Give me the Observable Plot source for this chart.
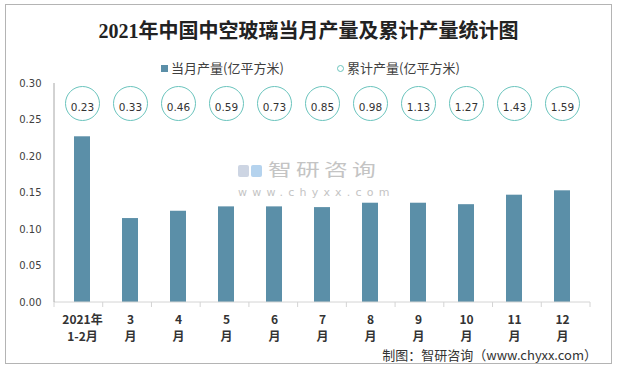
<!DOCTYPE html>
<html><head><meta charset="utf-8">
<script src="https://cdn.jsdelivr.net/npm/d3@7"></script>
<script src="https://cdn.jsdelivr.net/npm/@observablehq/plot@0.6"></script>
<style>
body{margin:0;background:#fff;}
#wrap{position:relative;width:617px;height:368px;overflow:hidden;font-family:"Noto Sans CJK SC",sans-serif;background:#fff;}
#border{position:absolute;left:5px;top:4px;width:605px;height:358px;border:1px solid #b4b4b4;}
#title{position:absolute;left:0;width:617px;top:18px;text-align:center;font-weight:bold;font-size:20px;font-family:"Liberation Serif","Noto Sans CJK SC",serif;color:#222;line-height:26px;}
.lg{position:absolute;font-size:13px;line-height:16px;color:#404040;top:60px;}
.sw{position:absolute;top:65px;width:7px;height:7px;}
#chart{position:absolute;left:0;top:66px;}
#footer{position:absolute;right:20px;top:348px;font-size:13px;line-height:14px;color:#333;}
#wm{position:absolute;left:238px;top:160px;color:#c4c4c4;}
</style></head>
<body>
<div id="wrap">
  <div id="border"></div>
  <div id="title"></div>
  <div class="sw" style="left:161px;background:#5b8fa8;"></div>
  <div class="lg" id="lg1" style="left:171px;"></div>
  <div class="sw" style="left:337px;border:1px solid #6ac4bd;border-radius:50%;width:5px;height:5px;"></div>
  <div class="lg" id="lg2" style="left:347px;"></div>
  <div id="wm">
    <div style="position:absolute;left:0;top:5px;width:11px;height:12px;background:#cdd5e3;border-radius:2px;"></div>
    <div style="position:absolute;left:13px;top:5px;width:11px;height:12px;background:#b5d3ee;border-radius:2px;"></div>
    <div id="wm1" style="position:absolute;left:30px;top:-1px;font-size:17px;letter-spacing:3px;transform:scaleX(1.4);transform-origin:left;white-space:nowrap;line-height:20px;"></div>
    <div id="wm2" style="position:absolute;left:0px;top:27px;font-size:11px;letter-spacing:5.2px;white-space:nowrap;font-family:'DejaVu Sans';line-height:12px;"></div>
  </div>
  <div id="chart"></div>
  <div id="footer"></div>
</div>
<script>
const titleText = "2021年中国中空玻璃当月产量及累计产量统计图";
const seriesNames = ["当月产量(亿平方米)", "累计产量(亿平方米)"];
const footerText = "制图：智研咨询（www.chyxx.com）";
const watermark = ["智研咨询", "www.chyxx.com"];

const months = ["2021年1-2月","3月","4月","5月","6月","7月","8月","9月","10月","11月","12月"];
const tickLabels = ["2021年\n1-2月","3\n月","4\n月","5\n月","6\n月","7\n月","8\n月","9\n月","10\n月","11\n月","12\n月"];
const monthly = [0.227,0.115,0.125,0.131,0.131,0.130,0.136,0.136,0.134,0.147,0.153];
const cumulative = [0.23,0.33,0.46,0.59,0.73,0.85,0.98,1.13,1.27,1.43,1.59];
const yTicks = [0,0.05,0.10,0.15,0.20,0.25,0.30];

document.getElementById("title").textContent = titleText;
document.getElementById("lg1").textContent = seriesNames[0];
document.getElementById("lg2").textContent = seriesNames[1];
document.getElementById("footer").textContent = footerText;
document.getElementById("wm1").textContent = watermark[0];
document.getElementById("wm2").textContent = watermark[1];

const data = months.map((m, i) => ({month: m, value: monthly[i], cum: cumulative[i], label: tickLabels[i]}));
const labelOf = new Map(data.map(d => [d.month, d.label]));

function axisLines(index, scales, values, dimensions) {
  const {width, height, marginLeft, marginRight, marginTop, marginBottom} = dimensions;
  const n = months.length;
  const step = (width - marginLeft - marginRight) / n;
  const y0 = height - marginBottom;
  const g = d3.create("svg:g");
  g.append("line").attr("x1", marginLeft).attr("x2", width - marginRight).attr("y1", y0).attr("y2", y0).attr("stroke", "#d4d4d4");
  for (let i = 0; i <= n; i++) {
    const x = marginLeft + i * step;
    g.append("line").attr("x1", x).attr("x2", x).attr("y1", y0).attr("y2", y0 + 5).attr("stroke", "#d4d4d4");
  }
  g.append("line").attr("x1", marginLeft).attr("x2", marginLeft).attr("y1", marginTop).attr("y2", y0).attr("stroke", "#a6a6a6");
  return g.node();
}

const plot = Plot.plot({
  width: 617, height: 282,
  marginTop: 17, marginBottom: 46, marginLeft: 54, marginRight: 27,
  x: {domain: months, paddingInner: 0.67, paddingOuter: 0.335, axis: null},
  y: {domain: [0, 0.30], axis: null},
  style: {background: "transparent", overflow: "visible"},
  marks: [
    Plot.barY(data, {x: "month", y: "value", fill: "#5b8fa8"}),
    axisLines,
    Plot.axisY({ticks: yTicks, tickFormat: d3.format(".2f"), tickSize: 0, tickPadding: 13, fontSize: 10, fontFamily: "DejaVu Sans", fill: "#404040", label: null}),
    Plot.axisX({tickSize: 0, tickPadding: 10, tickFormat: d => labelOf.get(d), fontSize: 12, fontWeight: "bold", fontFamily: "Noto Sans CJK SC", lineHeight: 1.4, fill: "#333", label: null}),
    Plot.dot(data, {x: "month", frameAnchor: "top", dy: 20, r: 17, fill: "white", stroke: "#6ac4bd", strokeWidth: 1}),
    Plot.text(data, {x: "month", text: d => d.cum.toFixed(2), frameAnchor: "top", dy: 20, fontSize: 10.5, fontFamily: "DejaVu Sans", fill: "#333"})
  ]
});
document.getElementById("chart").appendChild(plot);
</script>
</body></html>
